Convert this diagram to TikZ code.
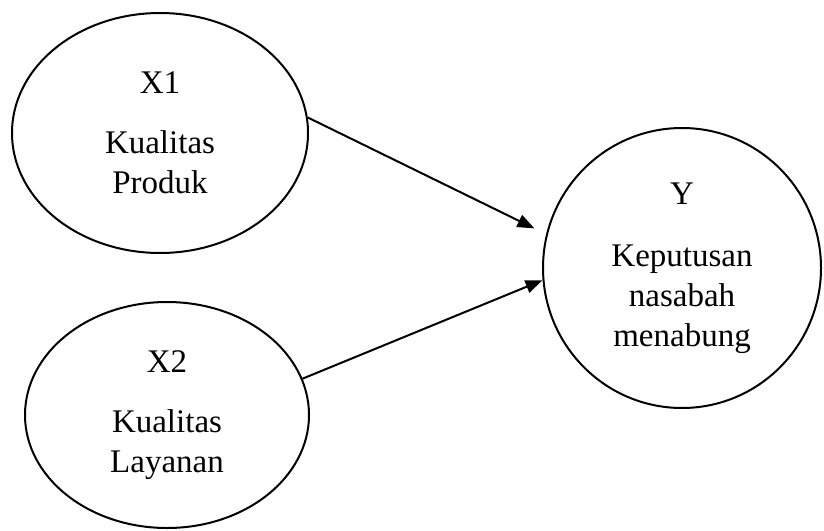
\documentclass[tikz,border=0pt]{standalone}
\usepackage{fontspec}
\setmainfont{Liberation Serif}
\usepackage{tikz}
\usetikzlibrary{shapes.geometric, arrows.meta}

\begin{document}
\begin{tikzpicture}[
    x=0.5pt, y=-0.5pt,
    font=\fontsize{16.5}{20}\selectfont,
    var/.style={ellipse, draw, line width=1pt, inner sep=0pt, align=center},
    link/.style={line width=1pt, -{Triangle[length=8.5pt, width=6.5pt]}},
  ]
    \useasboundingbox (0,0) rectangle (824,530);
    \node[var, minimum width=148pt, minimum height=120pt] (x1) at (160,133) {X1\\[10pt]Kualitas\\ Produk};
    \node[var, minimum width=142pt, minimum height=113pt] (x2) at (167,415) {X2\\[10pt] Kualitas\\Layanan};
    \node[var, minimum width=139pt, minimum height=140pt] (y) at (682,268) {Y\\[11pt]Keputusan\\ nasabah\\menabung};

    \draw[link, shorten >=6.5pt] (x1.6) -- (y.166);
    \draw[link] (x2.15) -- (y.185);
  \end{tikzpicture}
\end{document}
